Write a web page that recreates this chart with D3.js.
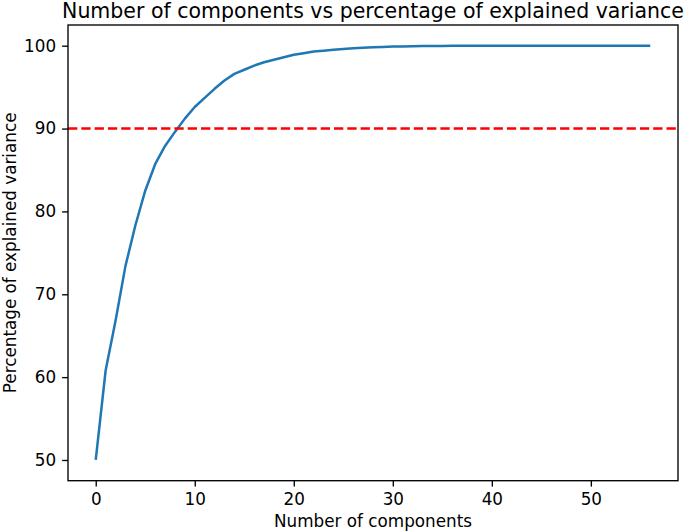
<!DOCTYPE html>
<html>
<head>
<meta charset="utf-8">
<script src="https://cdn.jsdelivr.net/npm/d3@7"></script>
<style>
  html, body { margin: 0; padding: 0; background: #fff; }
  svg { display: block; }
  text { font-family: "DejaVu Sans", sans-serif; fill: #000; }
</style>
</head>
<body>
<svg id="chart" width="685" height="532"></svg>
<script>
// ---- Data ----
const components = d3.range(0, 57);
const explainedVariance = [
  50.0, 60.8, 66.8, 73.4, 78.3, 82.5, 85.7, 87.9, 89.6, 91.2,
  92.6, 93.7, 94.8, 95.8, 96.6, 97.1, 97.6, 98.0, 98.3, 98.6,
  98.9, 99.1, 99.3, 99.4, 99.5, 99.6, 99.7, 99.75, 99.8, 99.85,
  99.9, 99.92, 99.94, 99.96, 99.97, 99.98, 99.99, 99.99, 99.99, 100.0,
  100.0, 100.0, 100.0, 100.0, 100.0, 100.0, 100.0, 100.0, 100.0, 100.0,
  100.0, 100.0, 100.0, 100.0, 100.0, 100.0, 100.0
];
const threshold = 90;
const xTicks = [0, 10, 20, 30, 40, 50];
const yTicks = [50, 60, 70, 80, 90, 100];
const titleText = "Number of components vs percentage of explained variance";
const xLabelText = "Number of components";
const yLabelText = "Percentage of explained variance";

// ---- Layout ----
const svg = d3.select("#chart");
const mLeft = 68, mRight = 678, mTop = 25, mBottom = 480.7;

const xMin = d3.min(components), xMax = d3.max(components);
const xPad = (xMax - xMin) * 0.05;
const yMin = d3.min(explainedVariance), yMax = d3.max(explainedVariance);
const yPad = (yMax - yMin) * 0.05;

const x = d3.scaleLinear().domain([xMin - xPad, xMax + xPad]).range([mLeft, mRight]);
const y = d3.scaleLinear().domain([yMin - yPad, yMax + yPad]).range([mBottom, mTop]);

const fontSize = 16.8;

// Axes
const xAxis = d3.axisBottom(x).tickValues(xTicks).tickSize(5.9).tickPadding(6.4).tickFormat(d3.format("d"));
const yAxis = d3.axisLeft(y).tickValues(yTicks).tickSize(5.9).tickPadding(6).tickFormat(d3.format("d"));

const gx = svg.append("g").attr("transform", `translate(0,${mBottom})`).call(xAxis);
const gy = svg.append("g").attr("transform", `translate(${mLeft},0)`).call(yAxis);
[gx, gy].forEach(g => {
  g.select(".domain").remove();
  g.selectAll(".tick line").attr("stroke", "#000").attr("stroke-width", 1.35);
  g.selectAll(".tick text").attr("font-size", fontSize).attr("font-family", "DejaVu Sans").attr("fill", "#000");
});

// Data line
const line = d3.line().x((d, i) => x(components[i])).y(d => y(d));
svg.append("path")
  .datum(explainedVariance)
  .attr("fill", "none")
  .attr("stroke", "#1f77b4")
  .attr("stroke-width", 2.5)
  .attr("stroke-linejoin", "round")
  .attr("stroke-linecap", "butt")
  .attr("d", line);

// Threshold line
svg.append("line")
  .attr("x1", mLeft).attr("x2", mRight)
  .attr("y1", y(threshold)).attr("y2", y(threshold))
  .attr("stroke", "#ff0000")
  .attr("stroke-width", 2.5)
  .attr("stroke-dasharray", "9.3,4");

// Frame
svg.append("rect")
  .attr("x", mLeft).attr("y", mTop)
  .attr("width", mRight - mLeft).attr("height", mBottom - mTop)
  .attr("fill", "none").attr("stroke", "#000").attr("stroke-width", 1.35);

// Title
svg.append("text")
  .attr("x", (mLeft + mRight) / 2).attr("y", 18)
  .attr("text-anchor", "middle").attr("font-size", 20.5)
  .text(titleText);

// X label
svg.append("text")
  .attr("x", (mLeft + mRight) / 2).attr("y", 527)
  .attr("text-anchor", "middle").attr("font-size", fontSize)
  .text(xLabelText);

// Y label
svg.append("text")
  .attr("transform", `translate(15.5,${(mTop + mBottom) / 2}) rotate(-90)`)
  .attr("text-anchor", "middle").attr("font-size", fontSize)
  .text(yLabelText);
</script>
</body>
</html>
